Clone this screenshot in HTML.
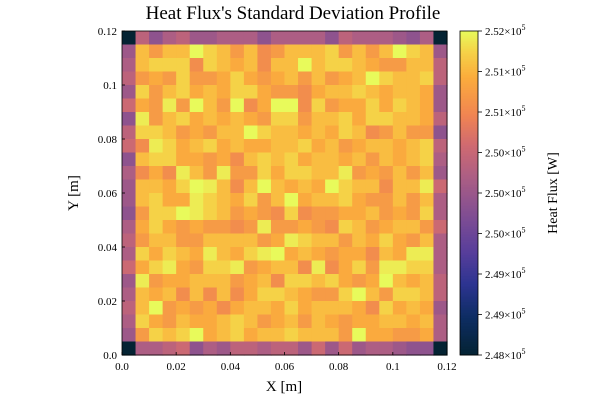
<!DOCTYPE html>
<html><head><meta charset="utf-8"><style>
body{margin:0;background:#fff;width:600px;height:400px;overflow:hidden;font-family:"Liberation Serif",serif}
svg text{font-family:"Liberation Serif",serif;fill:#000}
</style></head><body>
<svg id="chart" width="600" height="400" xmlns="http://www.w3.org/2000/svg">
<text x="293" y="19" font-size="19" text-anchor="middle">Heat Flux's Standard Deviation Profile</text>
<g id="cells"></g>
<g id="axes"></g>
<text x="284" y="391" font-size="15" text-anchor="middle">X [m]</text>
<text transform="translate(78,193) rotate(-90)" font-size="15" text-anchor="middle">Y [m]</text>
<g id="cbar"></g>
<text transform="translate(557,193) rotate(-90)" font-size="14" text-anchor="middle">Heat Flux [W]</text>
</svg>
<script>
// rows from top (y=0.12) to bottom (y=0); letter k -> 248000 + k*170
const rows = [
"AOLNOMMNNNLNNNNLONNNMLNA",
"MVTVVYWVTVSTVVVWTVTVYWVM",
"NVWWWSWVUVSVVYVWWVUTTVVO",
"OTUTWTTUWUTUVTVTUVYWVVWO",
"MWTVWUVUWWUTTSUVVWVUVVUM",
"PUTXTYVTYSUYYSWTUUWUWVUM",
"LXTVWUVUVUTWWTVVWUWWVVUO",
"OWWVTUTVVYWVVUVUWVSTVTTL",
"PSXWUVWUVUUVVWUVTUVVUVWO",
"LVWWUUTUSVWVWUVVUVTVUVWN",
"NSUSXVTXTTWUWWVVXTUTVTVM",
"MVVUWYXVSVYVUVUYWVVSVVXP",
"MVWUUXWVUWTVYUVVWUTTVTVN",
"LTWWYXWVTUTSWSTTUUVTUTWN",
"NUWUTUTTSTXTTUTSWVTUVVTP",
"OTVVTTVVVVTUXWVVTVUWUTVN",
"NWUWVUXVUWXYUVUTUUSVUXXN",
"PUWXUTWWXTUVVSXSUWTXXWWN",
"MXTUUVVVTUVSWWVWUTUYVUVO",
"NVUVSVSVSUWWVUTTWYVTWWVO",
"OVZTUTUSUVVUWUVVVUSWUVUM",
"NWUTVUUVWVTUVTVUTUUVVUVN",
"MTWVWYUVWUVVWVVVTYUUTTUN",
"ANNOPLNMOONOOMPMPMNNMLLA"
];
const vmin = 248000, vmax = 252000;
const cbTicks = [248000,248500,249000,249500,250000,250500,251000,251500,252000];
const cbLabels = ["2.48","2.49","2.49","2.50","2.50","2.50","2.51","2.51","2.52"];
const xTicks = [0,0.02,0.04,0.06,0.08,0.1,0.12];
const xLabels = ["0.0","0.02","0.04","0.06","0.08","0.1","0.12"];
const yTicks = [0,0.02,0.04,0.06,0.08,0.1,0.12];
const yLabels = ["0.0","0.02","0.04","0.06","0.08","0.1","0.12"];

const NS="http://www.w3.org/2000/svg";
const L=122,R=447,T=31,B=355;
const sx=v=>L+(v/0.12)*(R-L), sy=v=>B-(v/0.12)*(B-T);
const stops=[[0,[4,35,51]],[0.12,[14,45,100]],[0.22,[45,52,145]],[0.32,[88,62,155]],[0.42,[124,76,148]],[0.55,[172,94,132]],[0.65,[208,106,112]],[0.74,[240,132,82]],[0.86,[251,173,60]],[0.94,[245,212,72]],[1,[232,250,91]]];
function cmap(t){t=Math.max(0,Math.min(1,t));for(let i=1;i<stops.length;i++){if(t<=stops[i][0]){const a=stops[i-1],b=stops[i],f=(t-a[0])/(b[0]-a[0]);return "rgb("+a[1].map((c,j)=>Math.round(c+(b[1][j]-c)*f)).join(",")+")";}}return "rgb(232,250,91)";}
function mk(tag,attrs,parent){const e=document.createElementNS(NS,tag);for(const k in attrs)e.setAttribute(k,attrs[k]);parent.appendChild(e);return e;}
const n=rows.length, cw=(R-L)/n, ch=(B-T)/n;
const cg=document.getElementById('cells');
rows.forEach((row,r)=>{for(let c=0;c<row.length;c++){
  const v=vmin+(row.charCodeAt(c)-65)*170;
  const rc=mk('rect',{x:L+c*cw,y:T+r*ch,width:cw+0.6,height:ch+0.6,fill:cmap((v-vmin)/(vmax-vmin))},cg);
  
  
}});
const ax=document.getElementById('axes');
const frame=mk('rect',{x:L,y:T,width:R-L,height:B-T,fill:'none',stroke:'#000','stroke-width':0.8},ax);


xTicks.forEach((v,i)=>{const x=sx(v);mk('line',{x1:x,x2:x,y1:B,y2:B-3,stroke:'#000','stroke-width':0.8},ax);
  const t=mk('text',{x:x,y:B+15,'font-size':11,'text-anchor':'middle'},ax);t.textContent=xLabels[i];
  
  });
yTicks.forEach((v,i)=>{const y=sy(v);mk('line',{x1:L,x2:L+3,y1:y,y2:y,stroke:'#000','stroke-width':0.8},ax);
  const t=mk('text',{x:L-5,y:y+4,'font-size':11,'text-anchor':'end'},ax);t.textContent=yLabels[i];
  
  });
const cb=document.getElementById('cbar');
const CX=460,CW=18;
for(let i=0;i<200;i++){const t=i/200;mk('rect',{x:CX,y:B-(i+1)*(B-T)/200,width:CW,height:(B-T)/200+0.5,fill:cmap(t+0.0025)},cb);}
mk('rect',{x:CX,y:T,width:CW,height:B-T,fill:'none',stroke:'#000','stroke-width':0.8},cb);
cbTicks.forEach((v,i)=>{const y=B-(v-vmin)/(vmax-vmin)*(B-T);
  mk('line',{x1:CX+CW,x2:CX+CW+4,y1:y,y2:y,stroke:'#000','stroke-width':0.8},cb);
  const t=mk('text',{x:CX+CW+7,y:y+4,'font-size':11},cb);
  t.innerHTML=cbLabels[i]+'×10<tspan dy="-5" font-size="8">5</tspan>';
  
  });
</script>
</body></html>
